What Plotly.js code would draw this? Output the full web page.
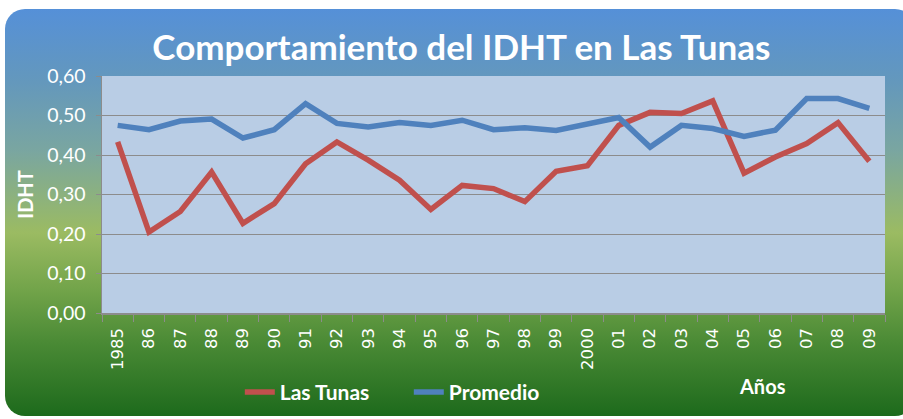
<!DOCTYPE html>
<html>
<head>
<meta charset="utf-8">
<script src="https://cdn.plot.ly/plotly-3.0.1.min.js"></script>
<style>
  html, body { margin:0; padding:0; background:#ffffff; width:903px; height:419px; overflow:hidden; }
  #card { position:absolute; left:5px; top:9px; width:910px; height:407px; border-radius:20px;
    background: linear-gradient(to bottom, #5590d8 0%, #6498bc 18%, #7aa6a0 35%, #9bbb62 55%, #6fa248 70%, #4a8a35 82%, #1d6a1c 100%); }
  #chart { position:absolute; left:0; top:0; width:903px; height:419px; }
</style>
</head>
<body>
<div id="card"></div>
<div id="chart"></div>
<script>
const years = ["1985","86","87","88","89","90","91","92","93","94","95","96","97","98","99","2000","01","02","03","04","05","06","07","08","09"];
const lasTunas = [0.433,0.205,0.257,0.357,0.227,0.277,0.378,0.433,0.387,0.336,0.262,0.323,0.315,0.282,0.359,0.373,0.475,0.508,0.505,0.537,0.354,0.395,0.429,0.482,0.384];
const promedio = [0.475,0.464,0.486,0.491,0.443,0.464,0.530,0.480,0.471,0.482,0.475,0.488,0.464,0.469,0.462,0.477,0.495,0.420,0.475,0.467,0.447,0.463,0.543,0.543,0.518];

const traces = [
  {x: years, y: lasTunas, name: "Las Tunas", type: "scatter", mode: "lines",
   line: {color: "#c0504d", width: 5.5}},
  {x: years, y: promedio, name: "Promedio", type: "scatter", mode: "lines",
   line: {color: "#4f81bd", width: 5.5}}
];

const white = "#ffffff";
const ff = "Lato, 'Open Sans', sans-serif";
const layout = {
  width: 903, height: 419,
  margin: {l: 102, r: 18, t: 76, b: 106, autoexpand: false},
  paper_bgcolor: "rgba(0,0,0,0)",
  plot_bgcolor: "#b9cde5",
  separators: ",.",
  title: {text: "<b>Comportamiento del IDHT en Las Tunas</b>", x: 0.511, xanchor: "center", y: 0.885, yanchor: "middle",
          font: {family: ff, size: 35, color: white}},
  xaxis: {type: "category", range: [-0.5, 24.5], tickangle: -90, tickson: "boundaries", ticks: "outside", ticklen: 7,
          tickcolor: "#8c8c8c", showline: true, linecolor: "#8c8c8c", linewidth: 1.5,
          showgrid: false, fixedrange: true, ticklabelstandoff: 7, automargin: false,
          tickfont: {family: "DejaVu Sans", size: 16.5, color: white}},
  yaxis: {range: [0, 0.6], dtick: 0.1, tickformat: ".2f", ticks: "outside", ticklen: 5,
          tickcolor: "#8c8c8c", showline: true, linecolor: "#8c8c8c", linewidth: 1.5,
          gridcolor: "#8c8c8c", gridwidth: 1, zeroline: false, fixedrange: true,
          ticklabelstandoff: 6, automargin: false,
          tickfont: {family: ff, size: 19.5, color: white},
          title: {text: "<b>IDHT</b>", standoff: 8, font: {family: ff, size: 20, color: white}}},
  showlegend: true,
  legend: {orientation: "h", x: 0.176, xanchor: "left", y: -0.335, yanchor: "middle",
           bgcolor: "rgba(0,0,0,0)", entrywidth: 124, entrywidthmode: "pixels",
           font: {family: ff, size: 21, color: white, weight: 700}},
  annotations: [
    {text: "<b>Años</b>", xref: "paper", yref: "paper", x: 0.844, y: -0.31, xanchor: "center", yanchor: "middle",
     showarrow: false, font: {family: ff, size: 20, color: white}}
  ]
};

Plotly.newPlot("chart", traces, layout, {displayModeBar: false, staticPlot: true});
</script>
</body>
</html>
